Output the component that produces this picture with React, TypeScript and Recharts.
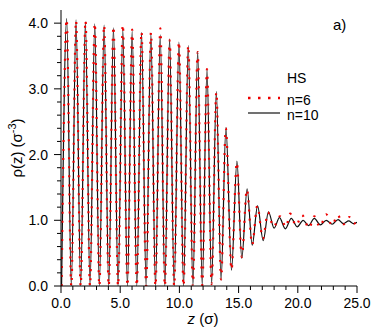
import React from "react";
import { LineChart, Line, XAxis, YAxis } from "recharts";

// n=10 (black solid) – extrema
const zBlack = [0.05, 0.48, 0.87, 1.27, 1.66, 2.06, 2.45, 2.85, 3.24, 3.64, 4.03, 4.43, 4.82, 5.22, 5.61, 6.01, 6.40, 6.80, 7.19, 7.59, 7.98, 8.38, 8.77, 9.17, 9.56, 9.96, 10.35, 10.75, 11.14, 11.54, 11.93, 12.33, 12.72, 13.12, 13.52, 13.93, 14.40, 14.86, 15.27, 15.72, 16.15, 16.60, 17.08, 17.52, 18.0, 18.45, 18.95, 19.45, 19.95, 20.45, 20.9, 21.4, 21.9, 22.4, 22.9, 23.4, 23.85, 24.3, 24.7, 25.0];
const rhoBlack = [0, 4.07, 0, 4.05, 0, 4.02, 0, 3.99, 0, 3.97, 0, 3.93, 0, 3.90, 0, 3.88, 0, 3.86, 0, 3.84, 0, 3.82, 0, 3.76, 0, 3.71, 0, 3.66, 0, 3.57, 0.01, 3.30, 0.03, 2.96, 0.09, 2.41, 0.24, 1.90, 0.42, 1.48, 0.62, 1.22, 0.69, 1.13, 0.88, 1.04, 0.87, 1.03, 0.90, 1.00, 0.92, 1.03, 0.93, 1.00, 0.94, 1.01, 0.95, 0.99, 0.95, 0.97];

// n=6 (red dotted)
const zRed = [0.05, 0.48, 0.87, 1.27, 1.66, 2.07, 2.45, 2.85, 3.24, 3.64, 4.03, 4.43, 4.82, 5.22, 5.61, 6.01, 6.40, 6.80, 7.19, 7.60, 7.98, 8.39, 8.77, 9.18, 9.56, 9.96, 10.35, 10.75, 11.14, 11.54, 11.93, 12.33, 12.72, 13.12, 13.52, 13.92, 14.40, 14.85, 15.27, 15.70, 16.15, 16.58, 17.05, 17.48, 17.95, 18.5, 19.0, 19.35, 19.85, 20.35, 20.95, 21.4, 21.85, 22.4, 22.9, 23.35, 23.85, 24.35, 24.75, 25.0];
const rhoRed = [0, 4.06, 0, 4.04, 0, 4.04, 0, 4.0, 0, 3.97, 0, 3.95, 0, 3.98, 0, 3.9, 0, 3.87, 0, 3.86, 0, 3.92, 0, 3.74, 0, 3.72, 0, 3.66, 0, 3.56, 0.01, 3.3, 0.03, 2.95, 0.1, 2.4, 0.25, 1.88, 0.44, 1.47, 0.63, 1.22, 0.72, 1.12, 0.9, 1.06, 0.9, 1.1, 0.92, 1.08, 0.88, 1.06, 0.9, 1.09, 0.92, 1.08, 0.94, 1.05, 0.95, 1.0];

const xTicks = [0, 1, 2, 3, 4, 5, 6, 7, 8, 9, 10, 11, 12, 13, 14, 15, 16, 17, 18, 19, 20, 21, 22, 23, 24, 25];
const yTicks = [0, 0.2, 0.4, 0.6, 0.8, 1.0, 1.2, 1.4, 1.6, 1.8, 2.0, 2.2, 2.4, 2.6, 2.8, 3.0, 3.2, 3.4, 3.6, 3.8, 4.0];

const blackData = zBlack.map((z, i) => ({ z, rho: rhoBlack[i] }));
const redData = zRed.map((z, i) => ({ z, rho: rhoRed[i] }));

const FONT = "'Liberation Sans', Arial, Helvetica, sans-serif";
const MAJ = 7;
const MIN = 4;
const RED = "#ee0000";
const RED_DASH = "2 7";

const isMajorX = (v: number) => Math.abs(v % 5) < 1e-6;
const isMajorY = (v: number) => Math.abs(v - Math.round(v)) < 1e-6;

const BottomTick = (p: any) => {
  const v = p.payload.value;
  const m = isMajorX(v);
  return (
    <g>
      <line x1={p.x} x2={p.x} y1={p.y} y2={p.y + (m ? MAJ : MIN)} stroke="#000" strokeWidth={1} />
      {m && (
        <text x={p.x} y={p.y + 22} textAnchor="middle" fontSize={14} fontFamily={FONT} fill="#000">
          {v.toFixed(1)}
        </text>
      )}
    </g>
  );
};
const TopTick = (p: any) => {
  const v = p.payload.value;
  const m = isMajorX(v);
  return <line x1={p.x} x2={p.x} y1={p.y} y2={p.y - (m ? MAJ : MIN)} stroke="#000" strokeWidth={1} />;
};
const LeftTick = (p: any) => {
  const v = p.payload.value;
  const m = isMajorY(v);
  return (
    <g>
      <line x1={p.x} x2={p.x - (m ? MAJ : MIN)} y1={p.y} y2={p.y} stroke="#000" strokeWidth={1} />
      {m && (
        <text x={p.x - 13} y={p.y + 5} textAnchor="end" fontSize={14} fontFamily={FONT} fill="#000">
          {v.toFixed(1)}
        </text>
      )}
    </g>
  );
};
const RightTick = (p: any) => {
  const v = p.payload.value;
  const m = isMajorY(v);
  return <line x1={p.x} x2={p.x + (m ? MAJ : MIN)} y1={p.y} y2={p.y} stroke="#000" strokeWidth={1} />;
};

export default function App() {
  return (
    <div style={{ position: "absolute", left: 0, top: 0, width: 374, height: 331, background: "#fff" }}>
      <LineChart width={374} height={331} data={blackData} margin={{ top: 10, right: 17, bottom: 0, left: 0 }}>
        <XAxis
          xAxisId="b"
          type="number"
          dataKey="z"
          domain={[0, 25]}
          ticks={xTicks}
          interval={0}
          allowDataOverflow
          height={45}
          tickSize={0}
          tickMargin={0}
          tickLine={false}
          axisLine={{ stroke: "#000", strokeWidth: 1 }}
          tick={<BottomTick />}
        />
        <XAxis
          xAxisId="t"
          orientation="top"
          type="number"
          dataKey="z"
          domain={[0, 25]}
          ticks={xTicks}
          interval={0}
          allowDataOverflow
          height={0}
          tickSize={0}
          tickMargin={0}
          tickLine={false}
          axisLine={{ stroke: "#000", strokeWidth: 1 }}
          tick={<TopTick />}
        />
        <YAxis
          yAxisId="l"
          type="number"
          domain={[0, 4.2]}
          ticks={yTicks}
          interval={0}
          allowDataOverflow
          width={61}
          tickSize={0}
          tickMargin={0}
          tickLine={false}
          axisLine={{ stroke: "#000", strokeWidth: 1 }}
          tick={<LeftTick />}
        />
        <YAxis
          yAxisId="r"
          orientation="right"
          type="number"
          domain={[0, 4.2]}
          ticks={yTicks}
          interval={0}
          allowDataOverflow
          width={0}
          tickSize={0}
          tickMargin={0}
          tickLine={false}
          axisLine={{ stroke: "#000", strokeWidth: 1 }}
          tick={<RightTick />}
        />
        <Line
          xAxisId="b"
          yAxisId="l"
          data={blackData}
          dataKey="rho"
          type="monotone"
          stroke="#111"
          strokeWidth={1.2}
          dot={false}
          isAnimationActive={false}
        />
        <Line
          xAxisId="b"
          yAxisId="l"
          data={redData}
          dataKey="rho"
          type="monotone"
          stroke={RED}
          strokeWidth={2.2}
          strokeDasharray={RED_DASH}
          dot={false}
          isAnimationActive={false}
        />
      </LineChart>
      <svg
        width={374}
        height={331}
        style={{ position: "absolute", left: 0, top: 0, pointerEvents: "none" }}
      >
        <text x={333} y={30} fontSize={15} fontFamily={FONT} fill="#000">a)</text>
        <text x={287} y={83} fontSize={14} fontFamily={FONT} fill="#000">HS</text>
        <line x1={248} x2={280} y1={98} y2={98} stroke={RED} strokeWidth={2.5} strokeDasharray="2.5 7.5" />
        <text x={287} y={105} fontSize={14} fontFamily={FONT} fill="#000">n=6</text>
        <line x1={248} x2={280} y1={113} y2={113} stroke="#111" strokeWidth={1.2} />
        <text x={287} y={120} fontSize={14} fontFamily={FONT} fill="#000">n=10</text>
        <text x={203} y={324} textAnchor="middle" fontSize={15} fontFamily={FONT} fill="#000">
          <tspan fontStyle="italic">z</tspan> (σ)
        </text>
        <text
          transform="translate(22,148) rotate(-90)"
          textAnchor="middle"
          fontSize={15}
          fontFamily={FONT}
          fill="#000"
        >
          ρ(z) (σ<tspan dy={-6} fontSize={11}>-3</tspan><tspan dy={6}>)</tspan>
        </text>
      </svg>
    </div>
  );
}
